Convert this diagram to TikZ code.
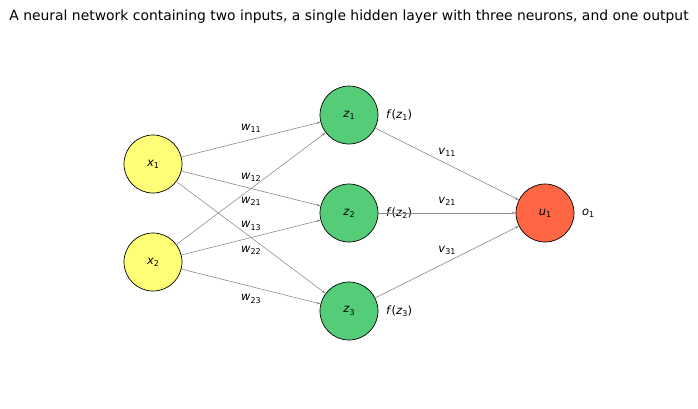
\documentclass[tikz,border=0pt]{standalone}
\usepackage{fontspec}
\setmainfont{DejaVu Sans}
\usetikzlibrary{arrows.meta}
\definecolor{inyellow}{RGB}{255,255,119}
\definecolor{hidgreen}{RGB}{85,204,119}
\definecolor{outred}{RGB}{255,102,68}
\newcommand{\sv}[2]{\textit{#1}\raisebox{-0.35ex}{\fontsize{8}{8}\selectfont #2}}

\begin{document}
\begin{tikzpicture}[x=1pt,y=-1pt,>={Stealth[length=4pt,width=2.6pt]},
  neuron/.style={circle,draw=black,line width=0.7pt,minimum size=58pt,inner sep=0pt,font=\fontsize{11.5}{13}\selectfont},
  conn/.style={->,draw=black!45,fill=black!45,line width=0.5pt},
  txt/.style={inner sep=0pt,font=\fontsize{11.5}{13}\selectfont},
  wup/.style={txt,midway,yshift=11.5pt},
  wdown/.style={txt,midway,yshift=-12.5pt}]
  \useasboundingbox (0,0) rectangle (698,408);
  \node[font=\fontsize{13.9}{16}\selectfont] (title) at (349,17)
    {A neural network containing two inputs, a single hidden layer with three neurons, and one output};
  \foreach \i/\y in {1/164,2/262}
    \node[neuron,fill=inyellow] (x\i) at (153,\y) {\sv{x}{\i}};
  \foreach \j/\y in {1/115,2/213,3/311} {
    \node[neuron,fill=hidgreen] (z\j) at (349,\y) {\sv{z}{\j}};
    \node[txt,anchor=west] (f\j) at (386,\y) {\textit{f}(\sv{z}{\j})};
  }
  \node[neuron,fill=outred] (u1) at (545,213) {\sv{u}{1}};
  \node[txt,anchor=west] (o1) at (582,213) {\sv{o}{1}};
  \foreach \i/\pos in {1/wup,2/wdown}
    \foreach \j in {1,2,3}
      \draw[conn] (x\i) -- (z\j) node[\pos] {\sv{w}{\i\j}};
  \foreach \j in {1,2,3}
    \draw[conn] (z\j) -- (u1) node[wup] {\sv{v}{\j1}};
\end{tikzpicture}
\end{document}
